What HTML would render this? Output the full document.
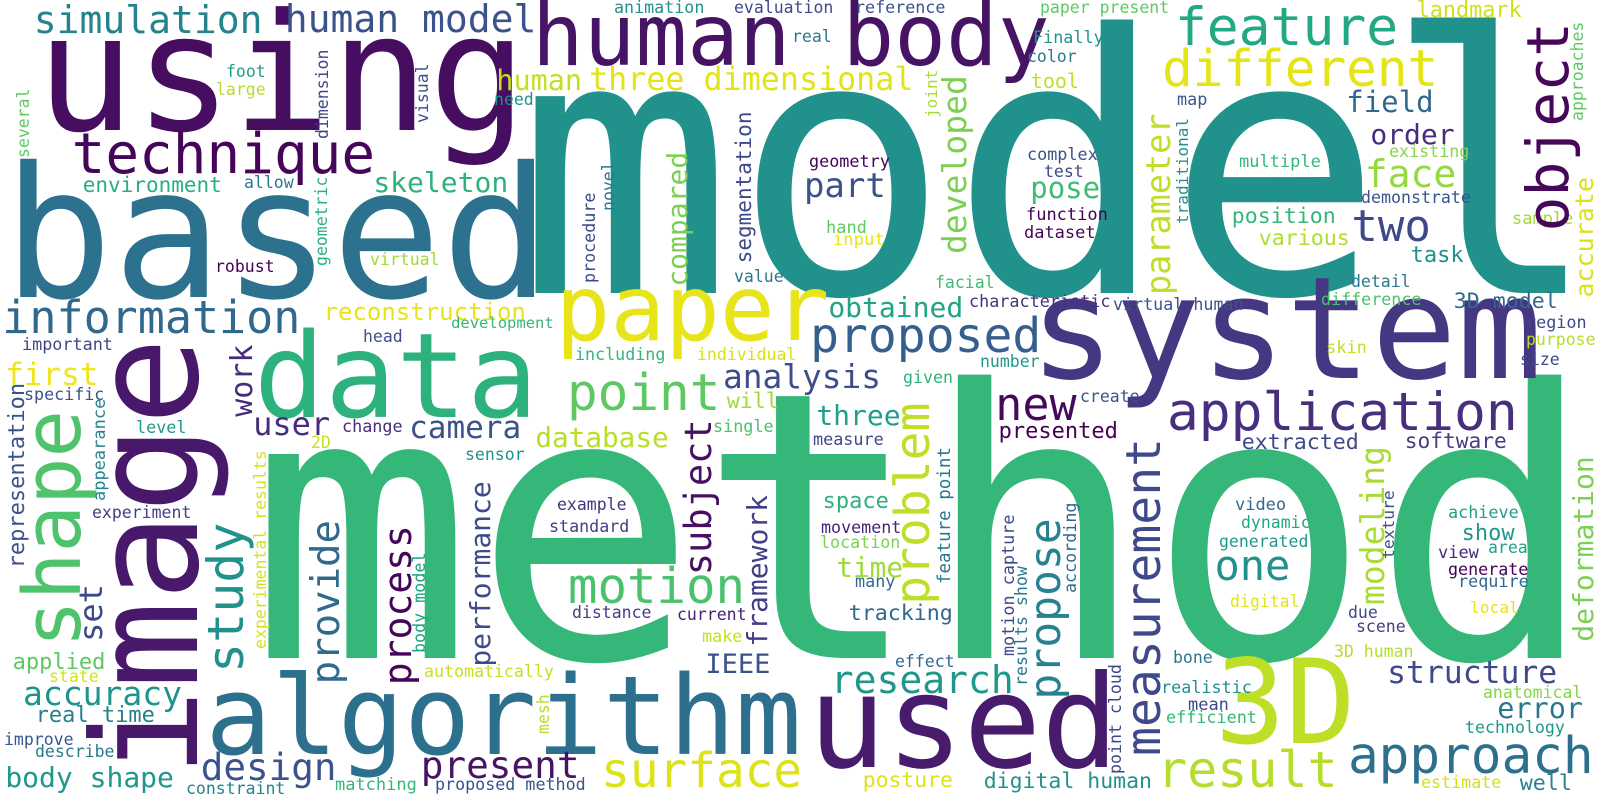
<!DOCTYPE html>
<html>
<head>
<meta charset="utf-8">
<style>
  html, body { margin: 0; padding: 0; background: #ffffff; }
  #cloud { display: block; }
  #cloud text { font-family: "DejaVu Sans Mono", "Liberation Mono", monospace; }
</style>
</head>
<body>
<svg id="cloud" width="1600" height="800" viewBox="0 0 1600 800" xmlns="http://www.w3.org/2000/svg">
  <rect x="0" y="0" width="1600" height="800" fill="#ffffff"/>
  <g id="words"></g>
</svg>
<script>
// ---- data: words and their weights (font sizes) ----
const words = [
  "model","method","using","based","algorithm","used","data","system","paper","3D",
  "human body","application","approach","result","different","feature","point","motion","proposed","surface",
  "technique","information","new","two","one","simulation","human model","research","face","design",
  "present","part","accuracy","analysis","three dimensional","user","first","camera","structure","human",
  "skeleton","body shape","obtained","order","field","pose","database","three","time","IEEE",
  "error","environment","reconstruction","landmark","position","various","3D model","task","will","space",
  "tracking","posture","digital human","presented","extracted","software","show","well","applied","real time",
  "tool",
  "animation","evaluation","reference","paper present","real","Finally","color","map","geometry","hand",
  "input","value","facial","complex","test","function","dataset","multiple","existing","demonstrate",
  "sample","detail","characteristic","virtual human","difference","region","purpose","size","skin","including",
  "individual","number","given","single","measure","create","example","standard","movement","location",
  "many","distance","current","make","effect","proposed method","automatically","video","dynamic","generated",
  "digital","due","scene","achieve","view","area","generate","require","local","3D human",
  "bone","anatomical","realistic","mean","efficient","technology","estimate","foot","large","need",
  "allow","robust","virtual","head","development","important","specific","level","change","2D",
  "sensor","experiment","state","improve","describe","constraint","matching",
  "image","shape","set","representation","appearance","study","work","provide","process","performance",
  "experimental results","body model","mesh","several","dimension","geometric","visual","object","approaches","accurate",
  "joint","developed","segmentation","compared","novel","procedure","parameter","traditional","subject","framework",
  "problem","feature point","motion capture","results show","propose","according","measurement","modeling","texture","deformation",
  "point cloud"
];
const sizes = [
  360,373,163,182,110,129,118,142,91,117,
  86,53,51,50,51,53,51,49,48,47.7,
  56,45,45,44,42,38,38,38,38,37.6,
  37.7,34,33,32.8,31.7,32,31,31,31.4,28.5,
  28,28,28,28,29,29,27.7,28,27.7,27,
  28.5,21,24,21.8,21.6,21.6,21.6,22,21.6,22,
  21.6,21.4,21.5,22,21.6,21.2,22,21.7,22,22,
  20,
  16.7,16.5,16.7,16.5,16.5,16.8,16.5,16.8,16.8,17,
  17.2,16.5,16.5,16.8,16.5,17,17,17,16.7,16.6,
  17,16.5,16.8,16.7,16.7,16.8,16.5,16.5,17,16.7,
  16.5,16.5,16.6,16.8,16.8,16.5,16.5,16.7,16.7,16.7,
  16.8,16.5,16.5,16.8,16.5,16.7,16.6,17,16.5,16.5,
  16.5,16.5,16.5,16.8,17,16.5,16.7,16.8,16.2,16.5,
  16.5,16.5,16.8,17,16.8,16.6,16.7,16.5,16.5,16.5,
  16.5,16.5,16.5,16.5,15.5,16.8,16.7,16.8,16.8,16.5,
  16.5,16.5,16.5,16.5,16.5,16.5,17,
  146,79,32,22,17,50,30,39,38,28,
  16.5,16.7,16.5,16.5,16.5,16.5,16.5,58,16.5,25,
  16,33,21,28,16.5,16.7,33.5,16,37,28,
  48,17.5,16.8,16.6,43,16.7,48,33,16.3,28,
  16.6
];
const colors = [
  "#21918c","#35b779","#470d60","#2c728e","#2d708e","#481b6d","#2db27d","#453781","#e7e419","#bddf26",
  "#471365","#472f7d","#2d708e","#b5de2b","#e5e419","#22a884","#5ec962","#4ac16d","#355f8d","#dde318",
  "#450559","#31688e","#46085c","#3e4989","#21918c","#25838e","#3b528b","#1f988b","#95d840","#3b528b",
  "#471365","#3b528b","#1f948c","#3d4e8a","#e2e418","#472d7b","#efe51c","#3b528b","#3e4a89","#c2df23",
  "#2db27d","#1f988b","#20a486","#472d7b","#31688e","#3fbc73","#bade28","#1f9e89","#a0da39","#3b528b",
  "#2a788e","#28ae80","#e7e419","#d0e11c","#35b779","#b0dd2f","#31688e","#21918c","#a2da37","#2db27d",
  "#31688e","#dfe318","#21918c","#440154","#3e4989","#433e85","#1f988b","#26828e","#5ec962","#27808e",
  "#c2df23",
  "#21918c","#3e4989","#3b528b","#5ec962","#2a788e","#1f968b","#2a788e","#39568c","#450559","#5ec962",
  "#e8e419","#2a788e","#3fbc73","#3b528b","#3e4989","#440154","#450559","#35b779","#86d549","#3b528b",
  "#a0da39","#2a788e","#46337e","#3b528b","#4ac16d","#3e4989","#b5de2b","#3e4989","#c2df23","#35b779",
  "#d8e219","#1f988b","#2fb47c","#4ac16d","#3e4989","#3b528b","#46337e","#433e85","#482475","#7ad151",
  "#31688e","#433e85","#481f70","#c8e020","#31688e","#3b528b","#c8e020","#31688e","#22a884","#1f988b",
  "#e2e418","#3e4989","#433e85","#1fa187","#482878","#1fa187","#440154","#31688e","#e8e419","#b5de2b",
  "#2a788e","#86d549","#21918c","#3e4989","#35b779","#1f988b","#d2e21b","#1f9e89","#b5de2b","#21918c",
  "#2a788e","#440154","#a0da39","#3b528b","#35b779","#3e4989","#3b528b","#1f988b","#472d7b","#c8e020",
  "#21918c","#433e85","#d2e21b","#39568c","#2a788e","#26828e","#35b779",
  "#48186a","#4ec36b","#3e4989","#3b528b","#26828e","#21918c","#472c7a","#2f6b8e","#450559","#3e4a89",
  "#d8e219","#1fa187","#b5de2b","#5ec962","#404688","#2db27d","#3b528b","#46075a","#5ec962","#d8e219",
  "#a8db34","#7ad151","#3e4989","#7ad151","#2a788e","#3e4989","#bddf26","#21918c","#471063","#433e85",
  "#bddf26","#2a788e","#3e4989","#2a788e","#26828e","#31688e","#3e4989","#a8db34","#3b528b","#7ad151",
  "#3e4989"
];

// ---- layout: [x, y, rotated] (horizontal: ink-left, baseline; rotated: baseline-x, ink-bottom) ----
const layout = [
  [538,293,0],[271,658,0],[46,130,0],[14,297,0],[212,754,0],[816,767,0],[261,417,0],[1038,378,0],[561,340,0],[1222,743,0],
  [537,65,0],[1170,430,0],[1351,773,0],[1160,787,0],[1165,86,0],[1178,45,0],[570,410,0],[571,603,0],[813,352,0],[604,787,0],
  [75,173,0],[5,333,0],[998,420,0],[1354,241,0],[1217,580,0],[36,33,0],[287,32,0],[833,693,0],[1367,187,0],[203,780,0],
  [423,778,0],[806,197,0],[25,705,0],[725,388,0],[591,90,0],[255,435,0],[7,385,0],[411,438,0],[1389,683,0],[498,90,0],
  [375,192,0],[7,787,0],[830,317,0],[1372,144,0],[1348,112,0],[1032,198,0],[537,447,0],[818,425,0],[838,577,0],[707,673,0],
  [1499,718,0],[84,192,0],[325,320,0],[1418,17,0],[1233,223,0],[1260,245,0],[1455,308,0],[1412,262,0],[728,408,0],[824,508,0],
  [850,620,0],[864,787,0],[985,788,0],[1000,438,0],[1243,449,0],[1406,448,0],[1463,540,0],[1521,790,0],[14,669,0],[37,722,0],
  [1032,88,0],
  [615,13,0],[735,13,0],[856,13,0],[1041,13,0],[793,42,0],[1034,43,0],[1028,62,0],[1178,105,0],[810,167,0],[827,233,0],
  [834,245,0],[735,282,0],[936,288,0],[1028,160,0],[1045,177,0],[1027,220,0],[1025,238,0],[1240,167,0],[1390,157,0],[1362,203,0],
  [1513,224,0],[1352,287,0],[970,307,0],[1114,310,0],[1322,305,0],[1527,328,0],[1527,345,0],[1521,365,0],[1327,353,0],[576,360,0],
  [698,360,0],[981,367,0],[904,383,0],[714,432,0],[814,445,0],[1081,402,0],[558,510,0],[550,532,0],[822,533,0],[821,548,0],
  [856,587,0],[573,618,0],[678,620,0],[703,642,0],[896,667,0],[436,790,0],[425,677,0],[1236,510,0],[1242,528,0],[1220,547,0],
  [1231,607,0],[1349,618,0],[1357,632,0],[1449,518,0],[1439,558,0],[1489,553,0],[1449,575,0],[1459,587,0],[1471,613,0],[1335,657,0],
  [1174,663,0],[1484,698,0],[1162,693,0],[1189,710,0],[1167,723,0],[1466,733,0],[1422,788,0],[227,77,0],[217,95,0],[495,105,0],
  [245,188,0],[216,272,0],[371,265,0],[364,342,0],[452,328,0],[23,350,0],[25,400,0],[137,433,0],[343,432,0],[312,448,0],
  [466,460,0],[93,518,0],[50,682,0],[5,745,0],[36,757,0],[187,794,0],[336,790,0],
  [197,768,1],[80,643,1],[102,640,1],[24,567,1],[105,500,1],[243,670,1],[252,415,1],[339,682,1],[411,683,1],[490,665,1],
  [266,648,1],[425,652,1],[549,733,1],[29,157,1],[328,138,1],[327,265,1],[428,122,1],[1568,228,1],[1583,120,1],[1593,296,1],
  [937,117,1],[966,252,1],[751,262,1],[687,285,1],[614,210,1],[595,282,1],[1170,293,1],[1188,223,1],[711,573,1],[767,645,1],
  [929,602,1],[950,583,1],[1014,655,1],[1027,685,1],[1060,697,1],[1076,592,1],[1160,753,1],[1384,603,1],[1394,558,1],[1593,640,1],
  [1121,773,1]
];

const NS = "http://www.w3.org/2000/svg";
const group = document.getElementById("words");
function slug(w) { return w.toLowerCase().replace(/[^a-z0-9]+/g, "-").replace(/^-|-$/g, ""); }

for (let i = 0; i < words.length; i++) {
  const s = sizes[i];
  const pos = layout[i];
  const t = document.createElementNS(NS, "text");
  t.textContent = words[i];
  t.setAttribute("font-size", s);
  t.setAttribute("fill", colors[i]);
  if (pos[2] === 1) {
    const ox = pos[0];
    const oy = pos[1] + 0.06 * s;
    t.setAttribute("x", 0);
    t.setAttribute("y", 0);
    t.setAttribute("transform", "translate(" + ox + "," + oy + ") rotate(-90)");
  } else {
    t.setAttribute("x", pos[0] - 0.06 * s);
    t.setAttribute("y", pos[1]);
  }
  
  
  group.appendChild(t);
}
</script>
</body>
</html>
